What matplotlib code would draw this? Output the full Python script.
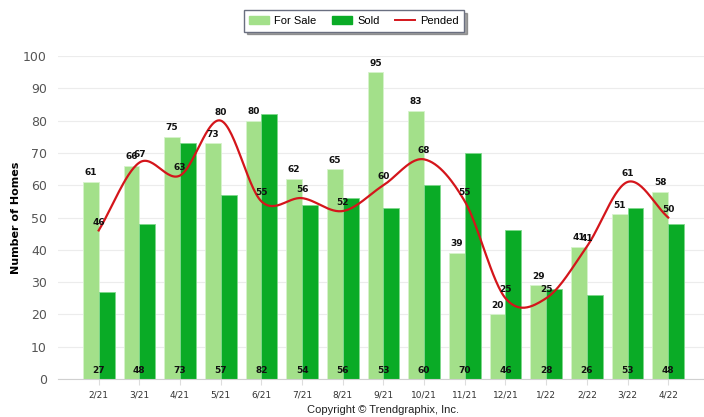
import numpy as np
import matplotlib
matplotlib.use("Agg")
import matplotlib.pyplot as plt
from matplotlib.patches import Patch
from matplotlib.lines import Line2D
from matplotlib import font_manager

months = ['2/21', '3/21', '4/21', '5/21', '6/21', '7/21', '8/21', '9/21',
          '10/21', '11/21', '12/21', '1/22', '2/22', '3/22', '4/22']
for_sale = [61, 66, 75, 73, 80, 62, 65, 95, 83, 39, 20, 29, 41, 51, 58]
sold = [27, 48, 73, 57, 82, 54, 56, 53, 60, 70, 46, 28, 26, 53, 48]
pended = [46, 67, 63, 80, 55, 56, 52, 60, 68, 55, 25, 25, 41, 61, 50]

# narrow font for the numbers if it exists
installed = {f.name for f in font_manager.fontManager.ttflist}
narrow = 'Liberation Sans Narrow' if 'Liberation Sans Narrow' in installed else 'DejaVu Sans'
plain = 'Liberation Sans'


def catmull_rom(y, steps=30):
    # smooth curve through the points (same look as the "spline" series)
    y = np.asarray(y, dtype=float)
    n = len(y)
    xs, ys = [], []
    for i in range(n - 1):
        m0 = (y[i + 1] - y[i - 1]) / 2 if i > 0 else (y[i + 1] - y[i])
        m1 = (y[i + 2] - y[i]) / 2 if i + 2 < n else (y[i + 1] - y[i])
        t = np.linspace(0, 1, steps, endpoint=(i == n - 2))
        h00 = 2 * t**3 - 3 * t**2 + 1
        h10 = t**3 - 2 * t**2 + t
        h01 = -2 * t**3 + 3 * t**2
        h11 = t**3 - t**2
        xs.append(i + t)
        ys.append(h00 * y[i] + h10 * m0 + h01 * y[i + 1] + h11 * m1)
    return np.concatenate(xs), np.concatenate(ys)


fig = plt.figure(figsize=(7.04, 4.17), dpi=100)
ax = fig.add_axes([0.0824, 0.0911, 0.9176, 0.7746])

x = np.arange(len(months))
w = 0.39
c_sale = '#a3e08a'
c_sold = '#0aab26'
c_pend = '#d4151b'

ax.bar(x - w / 2, for_sale, w, color=c_sale, edgecolor='#d6f3cc', linewidth=0.6, zorder=2)
ax.bar(x + w / 2, sold, w, color=c_sold, edgecolor='#7fd88c', linewidth=0.6, zorder=2)
sx, sy = catmull_rom(pended)
ax.plot(sx, sy, color=c_pend, linewidth=1.6, zorder=3)

lab = dict(fontsize=6.5, fontweight='bold', family=narrow, color='#111111', ha='center', va='center', zorder=4)
for i in range(len(months)):
    ax.text(x[i] - w / 2, for_sale[i] + 2.8, str(for_sale[i]), **lab)
    ax.text(x[i], 2.5, str(sold[i]), **lab)
    ax.text(x[i], pended[i] + 2.6, str(pended[i]), **lab)

ax.set_xlim(-1.0, 14.88)
ax.set_ylim(0, 100)
ax.set_yticks(range(0, 101, 10))
ax.set_xticks(x)
ax.set_xticklabels(months, fontsize=6.5, family=narrow, color='#333333')
ax.tick_params(axis='x', length=4, color='#dddddd', pad=4)
ax.tick_params(axis='y', length=0, labelsize=9, labelcolor='#555555', pad=8)
for t in ax.get_yticklabels():
    t.set_family(narrow)
ax.grid(axis='y', color='#ececec', linewidth=0.8, zorder=0)
for s in ['top', 'right', 'left']:
    ax.spines[s].set_visible(False)
ax.spines['bottom'].set_color('#d0d0d0')
ax.set_ylabel('Number of Homes', fontsize=8, fontweight='bold')
ax.yaxis.set_label_coords(-0.058, 0.5)

handles = [Patch(color=c_sale, label='For Sale'),
           Patch(color=c_sold, label='Sold'),
           Line2D([], [], color=c_pend, linewidth=1.4, label='Pended')]
leg = fig.legend(handles=handles, loc='center', bbox_to_anchor=(0.503, 0.9496), ncol=3,
                 fancybox=False, shadow=True, edgecolor='#6a6f80', framealpha=1,
                 prop={'family': plain, 'size': 8}, handlelength=1.8, handleheight=0.8,
                 columnspacing=1.4, handletextpad=0.45, borderpad=0.5)
leg.get_frame().set_linewidth(1.0)

fig.text(0.544, 0.017, 'Copyright \u00a9 Trendgraphix, Inc.', ha='center', va='center',
         fontsize=8, family=plain, color='#222222')

plt.savefig('out.png', dpi=100)
